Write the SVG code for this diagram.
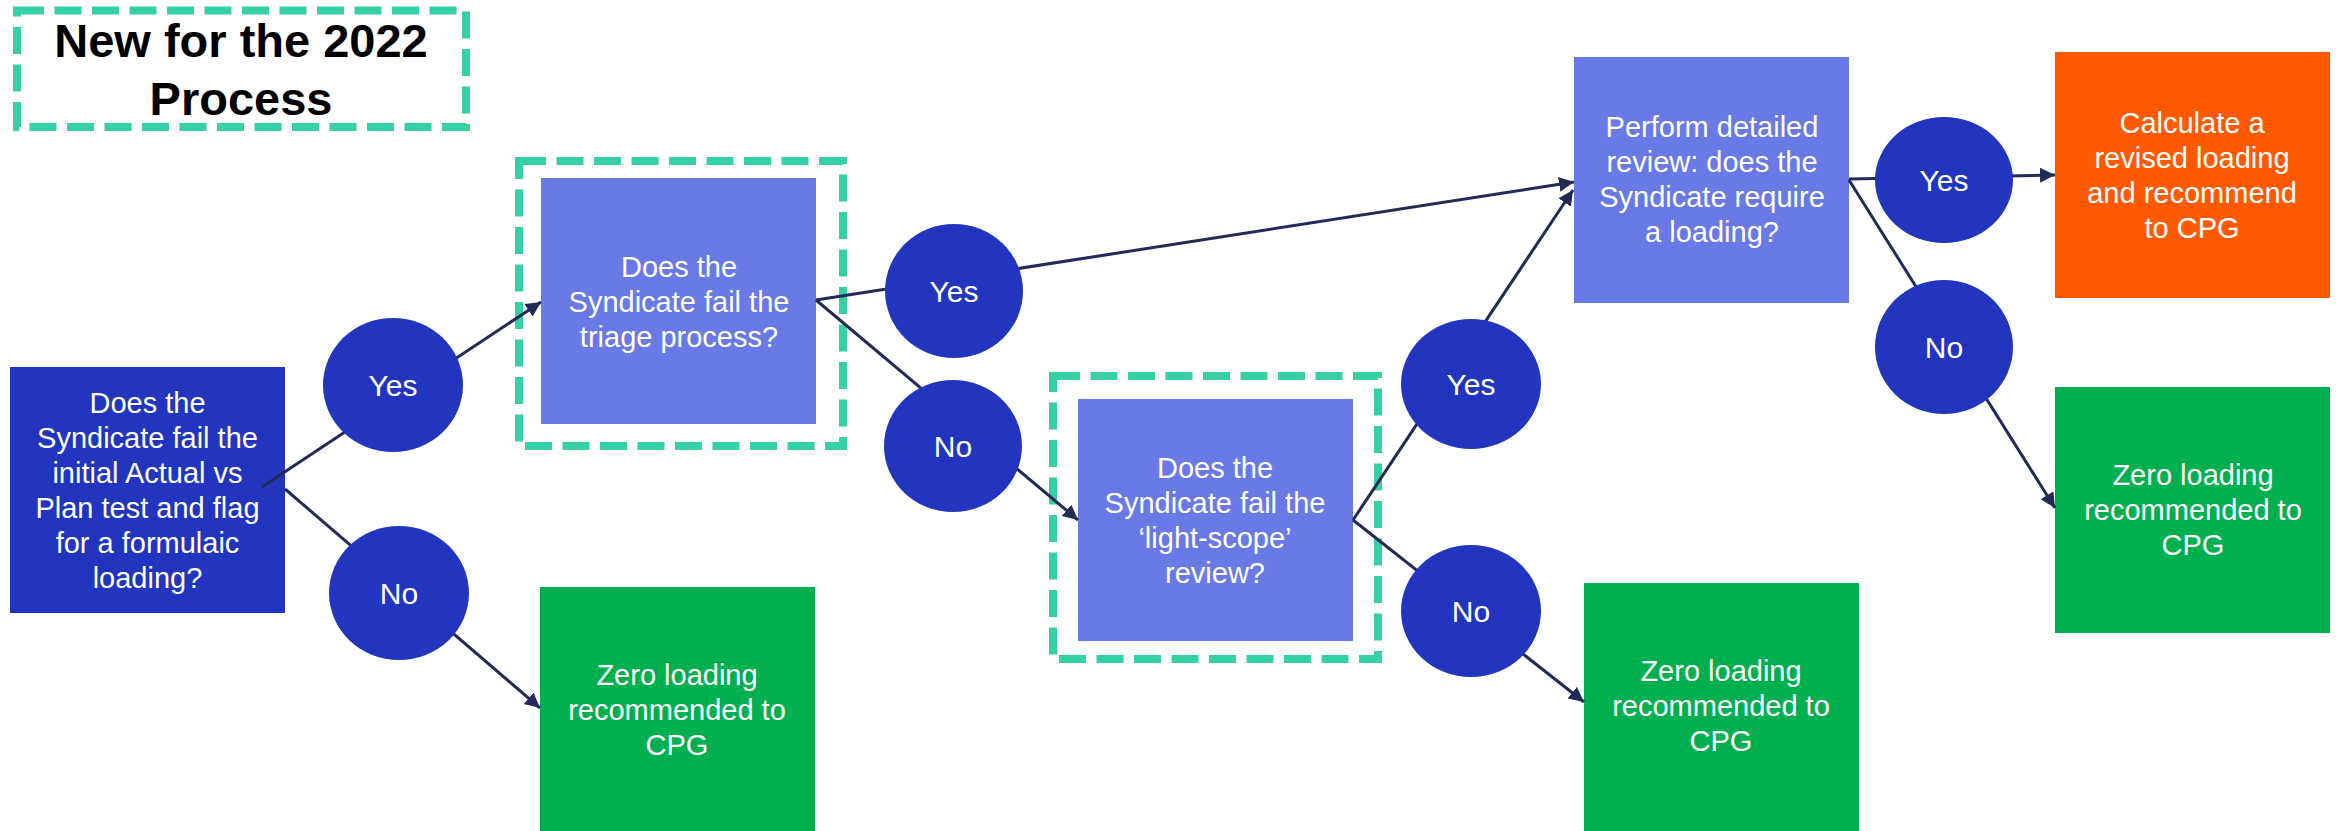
<svg xmlns="http://www.w3.org/2000/svg" width="2336" height="831" viewBox="0 0 2336 831">
<style>
.t{font-family:"Liberation Sans",Arial,sans-serif;font-size:29px;fill:#ffffff;text-anchor:middle}
.yn{font-family:"Liberation Sans",Arial,sans-serif;font-size:30px;fill:#ffffff;text-anchor:middle}
.title{font-family:"Liberation Sans",Arial,sans-serif;font-size:47px;font-weight:bold;fill:#000000;text-anchor:middle}
.dash{fill:none;stroke:#35D0A5;stroke-width:8;stroke-dasharray:27 10.5}
.dark{fill:#2135BE}
.light{fill:#6979E5}
.green{fill:#00AF50}
.orange{fill:#FF5A00}
.oval{fill:#2135BE}
.conn line{stroke:#232A55;stroke-width:3;marker-end:url(#arr)}
</style>
<defs>
<marker id="arr" markerWidth="16" markerHeight="16" refX="15" refY="7.5" orient="auto" markerUnits="userSpaceOnUse"><path d="M0,0 L15,7.5 L0,15 z" fill="#232A55"/></marker>
</defs>
<rect width="2336" height="831" fill="#ffffff"/>

<g id="title">
<rect class="dash" x="17" y="10.5" width="449" height="116.5"/>
<text class="title" x="241" y="57">New for the 2022</text>
<text class="title" x="241" y="115">Process</text>
</g>

<g id="initial-test">
<rect class="dark" x="10" y="367" width="275" height="246"/>
<text class="t" x="147.5" y="413">Does the</text>
<text class="t" x="147.5" y="448">Syndicate fail the</text>
<text class="t" x="147.5" y="483">initial Actual vs</text>
<text class="t" x="147.5" y="518">Plan test and flag</text>
<text class="t" x="147.5" y="553">for a formulaic</text>
<text class="t" x="147.5" y="588">loading?</text>
</g>

<g id="triage">
<rect class="dash" x="519" y="161" width="324" height="285"/>
<rect class="light" x="541" y="178" width="275" height="246"/>
<text class="t" x="679" y="277">Does the</text>
<text class="t" x="679" y="312">Syndicate fail the</text>
<text class="t" x="679" y="347">triage process?</text>
</g>

<g id="zero-1">
<rect class="green" x="540" y="587" width="275" height="246"/>
<text class="t" x="677" y="685">Zero loading</text>
<text class="t" x="677" y="720">recommended to</text>
<text class="t" x="677" y="755">CPG</text>
</g>

<g id="light-scope">
<rect class="dash" x="1053" y="376" width="325" height="283"/>
<rect class="light" x="1078" y="399" width="275" height="242"/>
<text class="t" x="1215" y="478">Does the</text>
<text class="t" x="1215" y="513">Syndicate fail the</text>
<text class="t" x="1215" y="548">‘light-scope’</text>
<text class="t" x="1215" y="583">review?</text>
</g>

<g id="zero-2">
<rect class="green" x="1584" y="583" width="275" height="250"/>
<text class="t" x="1721" y="681">Zero loading</text>
<text class="t" x="1721" y="716">recommended to</text>
<text class="t" x="1721" y="751">CPG</text>
</g>

<g id="detailed-review">
<rect class="light" x="1574" y="57" width="275" height="246"/>
<text class="t" x="1712" y="137">Perform detailed</text>
<text class="t" x="1712" y="172">review: does the</text>
<text class="t" x="1712" y="207">Syndicate require</text>
<text class="t" x="1712" y="242">a loading?</text>
</g>

<g id="revised-loading">
<rect class="orange" x="2055" y="52" width="275" height="246"/>
<text class="t" x="2192" y="133">Calculate a</text>
<text class="t" x="2192" y="168">revised loading</text>
<text class="t" x="2192" y="203">and recommend</text>
<text class="t" x="2192" y="238">to CPG</text>
</g>

<g id="zero-3">
<rect class="green" x="2055" y="387" width="275" height="246"/>
<text class="t" x="2193" y="485">Zero loading</text>
<text class="t" x="2193" y="520">recommended to</text>
<text class="t" x="2193" y="555">CPG</text>
</g>

<g id="connectors" class="conn">
<line x1="262" y1="487" x2="541" y2="302"/>
<line x1="285" y1="489" x2="540" y2="708"/>
<line x1="816" y1="300" x2="1574" y2="182"/>
<line x1="816" y1="300" x2="1078" y2="520"/>
<line x1="1353" y1="520" x2="1573" y2="190"/>
<line x1="1353" y1="520" x2="1584" y2="702"/>
<line x1="1849" y1="179" x2="2055" y2="175"/>
<line x1="1849" y1="180" x2="2055" y2="508"/>
</g>

<g id="yes-1"><ellipse class="oval" cx="393" cy="385" rx="70" ry="67"/><text class="yn" x="393" y="396">Yes</text></g>
<g id="no-1"><ellipse class="oval" cx="399" cy="593" rx="70" ry="67"/><text class="yn" x="399" y="604">No</text></g>
<g id="yes-2"><ellipse class="oval" cx="954" cy="291" rx="69" ry="67"/><text class="yn" x="954" y="302">Yes</text></g>
<g id="no-2"><ellipse class="oval" cx="953" cy="446" rx="69" ry="66"/><text class="yn" x="953" y="457">No</text></g>
<g id="yes-3"><ellipse class="oval" cx="1471" cy="384" rx="70" ry="65"/><text class="yn" x="1471" y="395">Yes</text></g>
<g id="no-3"><ellipse class="oval" cx="1471" cy="611" rx="70" ry="66"/><text class="yn" x="1471" y="622">No</text></g>
<g id="yes-4"><ellipse class="oval" cx="1944" cy="180" rx="69" ry="63"/><text class="yn" x="1944" y="191">Yes</text></g>
<g id="no-4"><ellipse class="oval" cx="1944" cy="347" rx="69" ry="67"/><text class="yn" x="1944" y="358">No</text></g>
</svg>
